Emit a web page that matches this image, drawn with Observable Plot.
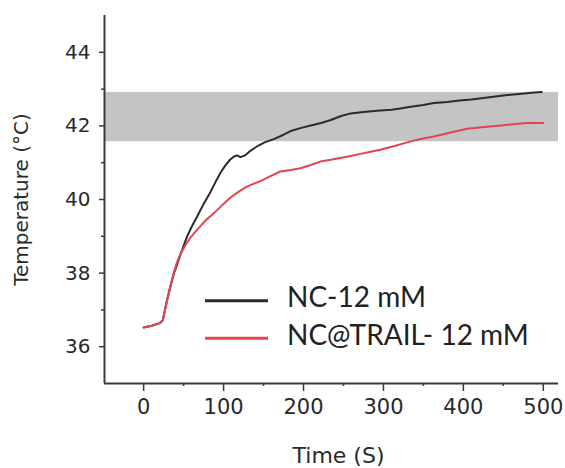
<!DOCTYPE html>
<html>
<head>
<meta charset="utf-8">
<script src="https://cdn.jsdelivr.net/npm/d3@7"></script>
<script src="https://cdn.jsdelivr.net/npm/@observablehq/plot@0.6"></script>
<style>
  html, body { margin: 0; padding: 0; background: #fff; }
  #wrap { position: relative; width: 565px; height: 468px; }
  #legend { position: absolute; left: 0; top: 0; pointer-events: none; }
</style>
</head>
<body>
<div id="wrap"></div>
<script>
// ---- data ----
const seriesNames = ["NC-12 mM", "NC@TRAIL- 12 mM"];
const seriesColors = ["#2b2b2b", "#e6444d"];

const ncTime = [0, 10, 20, 24, 29, 33, 38, 46, 54, 61, 67, 75, 84, 90, 96, 102, 108, 113, 117, 121, 127, 134, 143, 152, 163, 175, 184, 196, 209, 222, 234, 247, 259, 275, 292, 310, 321, 334, 350, 363, 380, 395, 410, 425, 440, 455, 470, 485, 498];
const ncTemp = [36.52, 36.57, 36.64, 36.72, 37.25, 37.6, 38.0, 38.5, 38.98, 39.3, 39.54, 39.88, 40.22, 40.48, 40.72, 40.92, 41.08, 41.17, 41.2, 41.15, 41.2, 41.33, 41.46, 41.56, 41.64, 41.76, 41.86, 41.94, 42.01, 42.08, 42.16, 42.27, 42.34, 42.38, 42.41, 42.44, 42.47, 42.52, 42.57, 42.62, 42.65, 42.69, 42.72, 42.76, 42.8, 42.84, 42.87, 42.9, 42.92];

const trailTime = [0, 10, 20, 24, 29, 33, 37, 41, 46, 52, 59, 67, 77, 88, 98, 108, 118, 129, 138, 146, 158, 171, 184, 196, 208, 221, 234, 246, 259, 271, 284, 296, 315, 334, 348, 363, 384, 405, 426, 447, 465, 480, 500];
const trailTemp = [36.52, 36.57, 36.64, 36.72, 37.22, 37.6, 37.95, 38.25, 38.52, 38.75, 38.98, 39.18, 39.42, 39.63, 39.84, 40.04, 40.2, 40.35, 40.43, 40.5, 40.63, 40.76, 40.8, 40.85, 40.93, 41.03, 41.08, 41.13, 41.18, 41.24, 41.3, 41.35, 41.46, 41.58, 41.65, 41.71, 41.82, 41.92, 41.97, 42.01, 42.05, 42.08, 42.08];

const bandLow = 41.57, bandHigh = 42.91;
const xDomain = [-49, 519];
const yDomain = [35, 45];
const xMajor = [0, 100, 200, 300, 400, 500];
const xMinor = [50, 150, 250, 350, 450];
const yMajor = [36, 38, 40, 42, 44];
const yMinor = [37, 39, 41, 43];
const xLabel = "Time (S)";
const yLabel = "Temperature (°C)";

const nc = ncTime.map((t, i) => ({t, v: ncTemp[i]}));
const trail = trailTime.map((t, i) => ({t, v: trailTemp[i]}));

const axisColor = "#3a3a3a";
const textColor = "#2a2a2a";

const chart = Plot.plot({
  width: 565,
  height: 468,
  marginLeft: 104,
  marginRight: 7,
  marginTop: 15,
  marginBottom: 85,
  style: { fontFamily: "DejaVu Sans", background: "#fff", color: textColor },
  x: { domain: xDomain },
  y: { domain: yDomain },
  marks: [
    Plot.rect([{}], { x1: xDomain[0], x2: xDomain[1], y1: bandLow, y2: bandHigh, fill: "#c4c4c4" }),
    Plot.line(nc, { x: "t", y: "v", stroke: seriesColors[0], strokeWidth: 2 }),
    Plot.line(trail, { x: "t", y: "v", stroke: seriesColors[1], strokeWidth: 2 }),
    Plot.ruleX([xDomain[0]], { stroke: axisColor, strokeWidth: 2 }),
    Plot.ruleY([yDomain[0]], { stroke: axisColor, strokeWidth: 2 }),
    Plot.axisY({ ticks: yMajor, tickSize: 5, tickPadding: 9, fontSize: 20, label: null, stroke: axisColor, strokeWidth: 1.5, fill: textColor }),
    Plot.axisY({ ticks: yMinor, tickSize: 3, tickFormat: () => "", label: null, stroke: axisColor, strokeWidth: 1.5 }),
    Plot.axisX({ ticks: xMajor, tickSize: 8, tickPadding: 8, fontSize: 21, label: null, stroke: axisColor, strokeWidth: 1.5, fill: textColor }),
    Plot.axisX({ ticks: xMinor, tickSize: 3, tickFormat: () => "", label: null, stroke: axisColor, strokeWidth: 1.5 }),
    Plot.text([yLabel], { text: d => d, frameAnchor: "left", textAnchor: "middle", lineAnchor: "middle", rotate: -90, dx: -83, fontSize: 20, fill: textColor }),
    Plot.text([xLabel], { text: d => d, frameAnchor: "bottom", textAnchor: "middle", lineAnchor: "bottom", dx: 7, dy: 79, fontSize: 22, fill: textColor })
  ]
});

const wrap = document.getElementById("wrap");
wrap.appendChild(chart);

// legend overlay (inside the plot area, as in the reference)
const leg = d3.select(wrap).append("svg")
  .attr("id", "legend")
  .attr("width", 565).attr("height", 468);
const legRows = seriesNames.map((name, i) => ({ name, color: seriesColors[i], i }));
const g = leg.selectAll("g").data(legRows).join("g")
  .attr("transform", d => `translate(205, ${300.7 + d.i * 37.6})`);
g.append("line").attr("x1", 0).attr("x2", 63).attr("y1", 0).attr("y2", 0)
  .attr("stroke", d => d.color).attr("stroke-width", 3);
g.append("text").attr("x", 82).attr("y", 6.5)
  .attr("font-family", "Lato, 'Open Sans', sans-serif").attr("font-size", 28)
  .attr("fill", "#222").text(d => d.name);
</script>
</body>
</html>
